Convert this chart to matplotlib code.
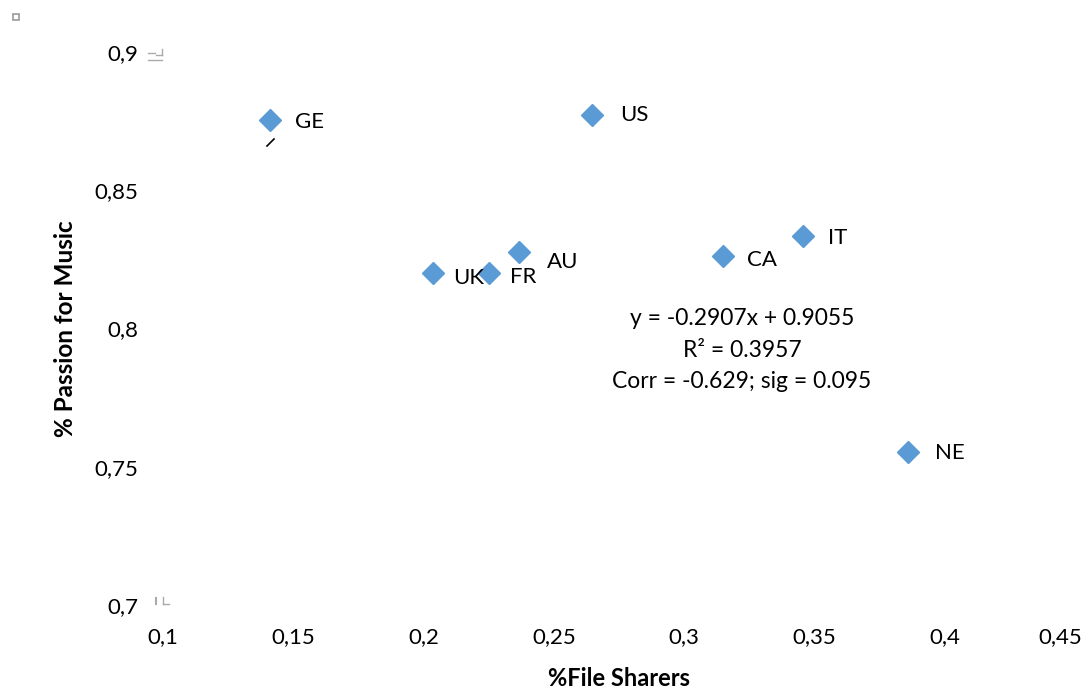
import matplotlib
matplotlib.use("Agg")
import matplotlib.pyplot as plt
from matplotlib.ticker import FuncFormatter

plt.rcParams['font.family'] = ['Lato', 'DejaVu Sans']

countries = ['GE', 'US', 'UK', 'FR', 'AU', 'CA', 'IT', 'NE']
file_sharers = [0.1411, 0.2646, 0.2036, 0.2251, 0.2366, 0.3149, 0.3456, 0.3859]
passion = [0.8754, 0.8772, 0.8201, 0.8201, 0.8277, 0.8262, 0.8335, 0.7553]

x_ticks = [0.1, 0.15, 0.2, 0.25, 0.3, 0.35, 0.4, 0.45]
y_ticks = [0.7, 0.75, 0.8, 0.85, 0.9]
trend_text = "y = -0.2907x + 0.9055\nR² = 0.3957\nCorr = -0.629; sig = 0.095"

# label offsets (pixels) as the labels sit in the original chart
label_offsets = {'GE': (25, -2), 'US': (28, 0), 'UK': (20, -5), 'FR': (21, -4),
                 'AU': (28, -10), 'CA': (24, -4), 'IT': (25, -2), 'NE': (27, -1)}

fs = 16

fig = plt.figure(figsize=(10.87, 6.91), dpi=100)
ax = fig.add_axes([163 / 1087, 1 - 605 / 691, 912 / 1087, 553 / 691])

ax.plot(file_sharers, passion, linestyle='none', marker='D', markersize=11,
        color='#5B9BD5', markeredgecolor='#5B9BD5')

for name, x, y in zip(countries, file_sharers, passion):
    ax.annotate(name, (x, y), xytext=label_offsets[name], textcoords='offset pixels',
                fontsize=fs, va='center', ha='left', color='black')

ax.text(0.3222, 0.7922, trend_text, fontsize=16.5, ha='center', va='center',
        linespacing=1.6)

ax.set_xlim(0.1, 0.45)
ax.set_ylim(0.7, 0.9)
ax.set_xticks(x_ticks)
ax.set_yticks(y_ticks)
comma = FuncFormatter(lambda v, p: ('%g' % v).replace('.', ','))
ax.yaxis.set_major_formatter(comma)
# last x label is pulled inside the chart area, as in the source
ax.xaxis.set_major_formatter(FuncFormatter(
    lambda v, p: '' if abs(v - x_ticks[-1]) < 1e-9 else ('%g' % v).replace('.', ',')))
ax.annotate(('%g' % x_ticks[-1]).replace('.', ','), (x_ticks[-1], 0.7),
            xytext=(-15, -22), textcoords='offset pixels', ha='center', va='top',
            fontsize=fs, annotation_clip=False)
ax.tick_params(axis='x', length=0, labelsize=fs, pad=16)
ax.tick_params(axis='y', length=0, labelsize=fs, pad=18)
for s in ax.spines.values():
    s.set_visible(False)

ax.set_xlabel('%File Sharers', fontsize=17, fontweight='bold', labelpad=14)
ax.set_ylabel('% Passion for Music', fontsize=17.5, fontweight='bold', labelpad=12)

# small leftover marks seen in the source image
fig.add_artist(plt.Rectangle((13 / 1087, 1 - 20 / 691), 6 / 1087, 6 / 691,
                             fill=False, edgecolor='#999999', lw=1.2))
gray = '#aaaaaa'
fig.add_artist(plt.Line2D([148 / 1087, 155 / 1087], [1 - 53 / 691] * 2, color=gray, lw=1))
fig.add_artist(plt.Line2D([148 / 1087, 162 / 1087], [1 - 60 / 691] * 2, color=gray, lw=1))
fig.add_artist(plt.Line2D([156 / 1087, 162 / 1087], [1 - 55 / 691] * 2, color=gray, lw=1))
fig.add_artist(plt.Line2D([162 / 1087, 162 / 1087], [1 - 49 / 691, 1 - 55 / 691], color=gray, lw=1))
fig.add_artist(plt.Line2D([156 / 1087, 156 / 1087], [1 - 598 / 691, 1 - 604 / 691], color=gray, lw=1.5))
fig.add_artist(plt.Line2D([163 / 1087, 163 / 1087], [1 - 597 / 691, 1 - 604 / 691], color=gray, lw=1))
fig.add_artist(plt.Line2D([163 / 1087, 169 / 1087], [1 - 604 / 691] * 2, color=gray, lw=1))
fig.add_artist(plt.Line2D([267 / 1087, 274 / 1087], [1 - 146 / 691, 1 - 139 / 691], color='black', lw=1.2))

fig.savefig('out.png', dpi=100)
